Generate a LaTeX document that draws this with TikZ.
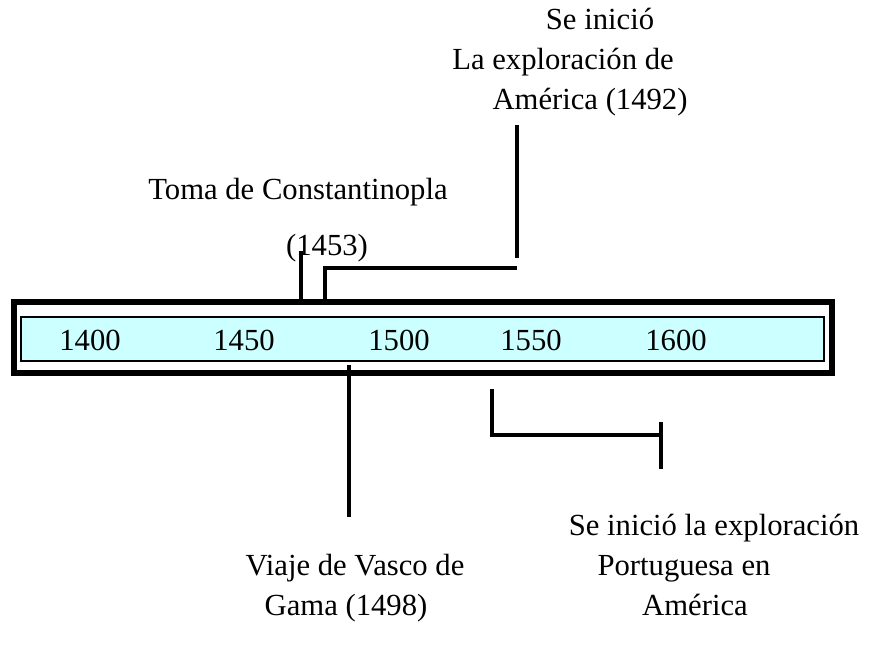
\documentclass[tikz,border=0pt]{standalone}
\usepackage{fontspec}
\setmainfont{Liberation Serif}
\definecolor{barcyan}{HTML}{CCFFFF}
\begin{document}
\begin{tikzpicture}[x=0.75pt,y=-0.75pt,
  lbl/.style={inner sep=0pt, anchor=base, font=\fontsize{23}{27}\selectfont},
  conn/.style={line width=3.5pt, line cap=butt},
  outerbox/.style={draw, line width=4.5pt, inner sep=0pt},
  innerbox/.style={draw, line width=1.9pt, fill=barcyan, inner sep=0pt}]
\useasboundingbox (0,0) rectangle (875,648);
% bar
\node[outerbox, minimum width=818*0.75pt, minimum height=71*0.75pt] (bar) at (422.5,337.5) {};
\node[innerbox, minimum width=803*0.75pt, minimum height=44*0.75pt] (strip) at (422.5,339) {};
% years
\node[lbl] (y1400) at (90,351) {1400};
\node[lbl] (y1450) at (244,351) {1450};
\node[lbl] (y1500) at (399,351) {1500};
\node[lbl] (y1550) at (531,351) {1550};
\node[lbl] (y1600) at (676,351) {1600};
% labels
\node[lbl] (am1) at (600,30) {Se inició};
\node[lbl] (am2) at (563,70) {La exploración de};
\node[lbl] (am3) at (590,110) {América (1492)};
\node[lbl] (con1) at (298,200) {Toma de Constantinopla};
\node[lbl] (con2) at (327,256) {(1453)};
\node[lbl] (va1) at (355,575) {Viaje de Vasco de};
\node[lbl] (va2) at (346,615) {Gama (1498)};
\node[lbl] (po1) at (714,535) {Se inició la exploración};
\node[lbl] (po2) at (684,575) {Portuguesa en};
\node[lbl] (po3) at (695,615) {América};
% connector coordinates
\coordinate (cA) at (301,251);
\coordinate (cB) at (301,305);
\coordinate (dA) at (517,125);
\coordinate (dB) at (517,258);
\coordinate (eA) at (517,268);
\coordinate (eB) at (325,268);
\coordinate (eC) at (325,300);
\coordinate (fA) at (349,365);
\coordinate (fB) at (349,517);
\coordinate (gA) at (492,389);
\coordinate (gB) at (492,435);
\coordinate (gC) at (661,435);
\coordinate (hA) at (661,422);
\coordinate (hB) at (661,469);
% connectors
\draw[conn] (cA) -- (cB);
\draw[conn] (dA) -- (dB);
\draw[conn] (eA) -- (eB) -- (eC);
\draw[conn] (fA) -- (fB);
\draw[conn] (gA) -- (gB) -- (gC);
\draw[conn] (hA) -- (hB);
\end{tikzpicture}
\end{document}
